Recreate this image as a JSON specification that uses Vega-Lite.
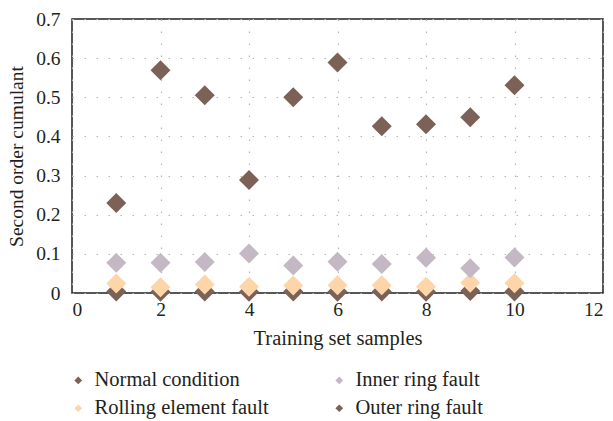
{
  "$schema": "https://vega.github.io/schema/vega-lite/v6.json",
  "width": 531,
  "height": 274,
  "autosize": {"type": "none"},
  "padding": {"left": 72, "top": 19, "right": 10, "bottom": 128},
  "background": "white",
  "config": {
    "font": "Liberation Serif",
    "view": {"stroke": "#231f20", "strokeWidth": 1.5},
    "axis": {
      "labelFont": "Liberation Serif",
      "titleFont": "Liberation Serif",
      "labelFontSize": 19.5,
      "titleFontSize": 20.5,
      "labelColor": "#231f20",
      "titleColor": "#231f20",
      "titleFontWeight": "normal",
      "domain": false,
      "ticks": false,
      "gridColor": "#b5b5b5",
      "gridDash": [1.5, 10.5],
      "gridWidth": 1.2
    },
    "legend": {
      "labelFont": "Liberation Serif",
      "labelFontSize": 20.5,
      "labelColor": "#231f20",
      "labelLimit": 400
    }
  },
  "data": {
    "values": [
      {"sample": 1, "value": 0.004, "condition": "Outer ring fault"},
      {"sample": 2, "value": 0.003, "condition": "Outer ring fault"},
      {"sample": 3, "value": 0.004, "condition": "Outer ring fault"},
      {"sample": 4, "value": 0.003, "condition": "Outer ring fault"},
      {"sample": 5, "value": 0.004, "condition": "Outer ring fault"},
      {"sample": 6, "value": 0.003, "condition": "Outer ring fault"},
      {"sample": 7, "value": 0.004, "condition": "Outer ring fault"},
      {"sample": 8, "value": 0.003, "condition": "Outer ring fault"},
      {"sample": 9, "value": 0.005, "condition": "Outer ring fault"},
      {"sample": 10, "value": 0.004, "condition": "Outer ring fault"},
      {"sample": 1, "value": 0.024, "condition": "Rolling element fault"},
      {"sample": 2, "value": 0.015, "condition": "Rolling element fault"},
      {"sample": 3, "value": 0.022, "condition": "Rolling element fault"},
      {"sample": 4, "value": 0.016, "condition": "Rolling element fault"},
      {"sample": 5, "value": 0.019, "condition": "Rolling element fault"},
      {"sample": 6, "value": 0.02, "condition": "Rolling element fault"},
      {"sample": 7, "value": 0.02, "condition": "Rolling element fault"},
      {"sample": 8, "value": 0.016, "condition": "Rolling element fault"},
      {"sample": 9, "value": 0.026, "condition": "Rolling element fault"},
      {"sample": 10, "value": 0.025, "condition": "Rolling element fault"},
      {"sample": 1, "value": 0.077, "condition": "Inner ring fault"},
      {"sample": 2, "value": 0.077, "condition": "Inner ring fault"},
      {"sample": 3, "value": 0.079, "condition": "Inner ring fault"},
      {"sample": 4, "value": 0.101, "condition": "Inner ring fault"},
      {"sample": 5, "value": 0.07, "condition": "Inner ring fault"},
      {"sample": 6, "value": 0.08, "condition": "Inner ring fault"},
      {"sample": 7, "value": 0.074, "condition": "Inner ring fault"},
      {"sample": 8, "value": 0.09, "condition": "Inner ring fault"},
      {"sample": 9, "value": 0.063, "condition": "Inner ring fault"},
      {"sample": 10, "value": 0.091, "condition": "Inner ring fault"},
      {"sample": 1, "value": 0.23, "condition": "Normal condition"},
      {"sample": 2, "value": 0.569, "condition": "Normal condition"},
      {"sample": 3, "value": 0.505, "condition": "Normal condition"},
      {"sample": 4, "value": 0.289, "condition": "Normal condition"},
      {"sample": 5, "value": 0.5, "condition": "Normal condition"},
      {"sample": 6, "value": 0.589, "condition": "Normal condition"},
      {"sample": 7, "value": 0.426, "condition": "Normal condition"},
      {"sample": 8, "value": 0.431, "condition": "Normal condition"},
      {"sample": 9, "value": 0.449, "condition": "Normal condition"},
      {"sample": 10, "value": 0.531, "condition": "Normal condition"}
    ]
  },
  "mark": {"type": "point", "shape": "diamond", "filled": true, "opacity": 1, "size": 400},
  "encoding": {
    "x": {
      "field": "sample",
      "type": "quantitative",
      "scale": {"domain": [0, 12], "nice": false},
      "axis": {"values": [0, 2, 4, 6, 8, 10, 12], "labelPadding": 7, "title": "Training set samples", "titlePadding": 10, "format": "d"}
    },
    "y": {
      "field": "value",
      "type": "quantitative",
      "scale": {"domain": [0, 0.7], "nice": false},
      "axis": {"values": [0, 0.1, 0.2, 0.3, 0.4, 0.5, 0.6, 0.7], "labelPadding": 12, "title": "Second order cumulant", "titlePadding": 9, "titleFontSize": 19.5, "labelExpr": "datum.value == 0 ? '0' : format(datum.value, '.1f')"}
    },
    "color": {
      "field": "condition",
      "type": "nominal",
      "scale": {
        "domain": ["Normal condition", "Inner ring fault", "Rolling element fault", "Outer ring fault"],
        "range": ["#7c6157", "#c5b8c5", "#fdd5a9", "#7c6157"]
      },
      "legend": {
        "title": null,
        "orient": "none",
        "legendX": -4,
        "legendY": 351,
        "direction": "horizontal",
        "columns": 2,
        "columnPadding": 60,
        "rowPadding": 7,
        "symbolType": "diamond",
        "symbolSize": 60,
        "labelOffset": 6,
        "symbolOffset": 0
      }
    }
  }
}
